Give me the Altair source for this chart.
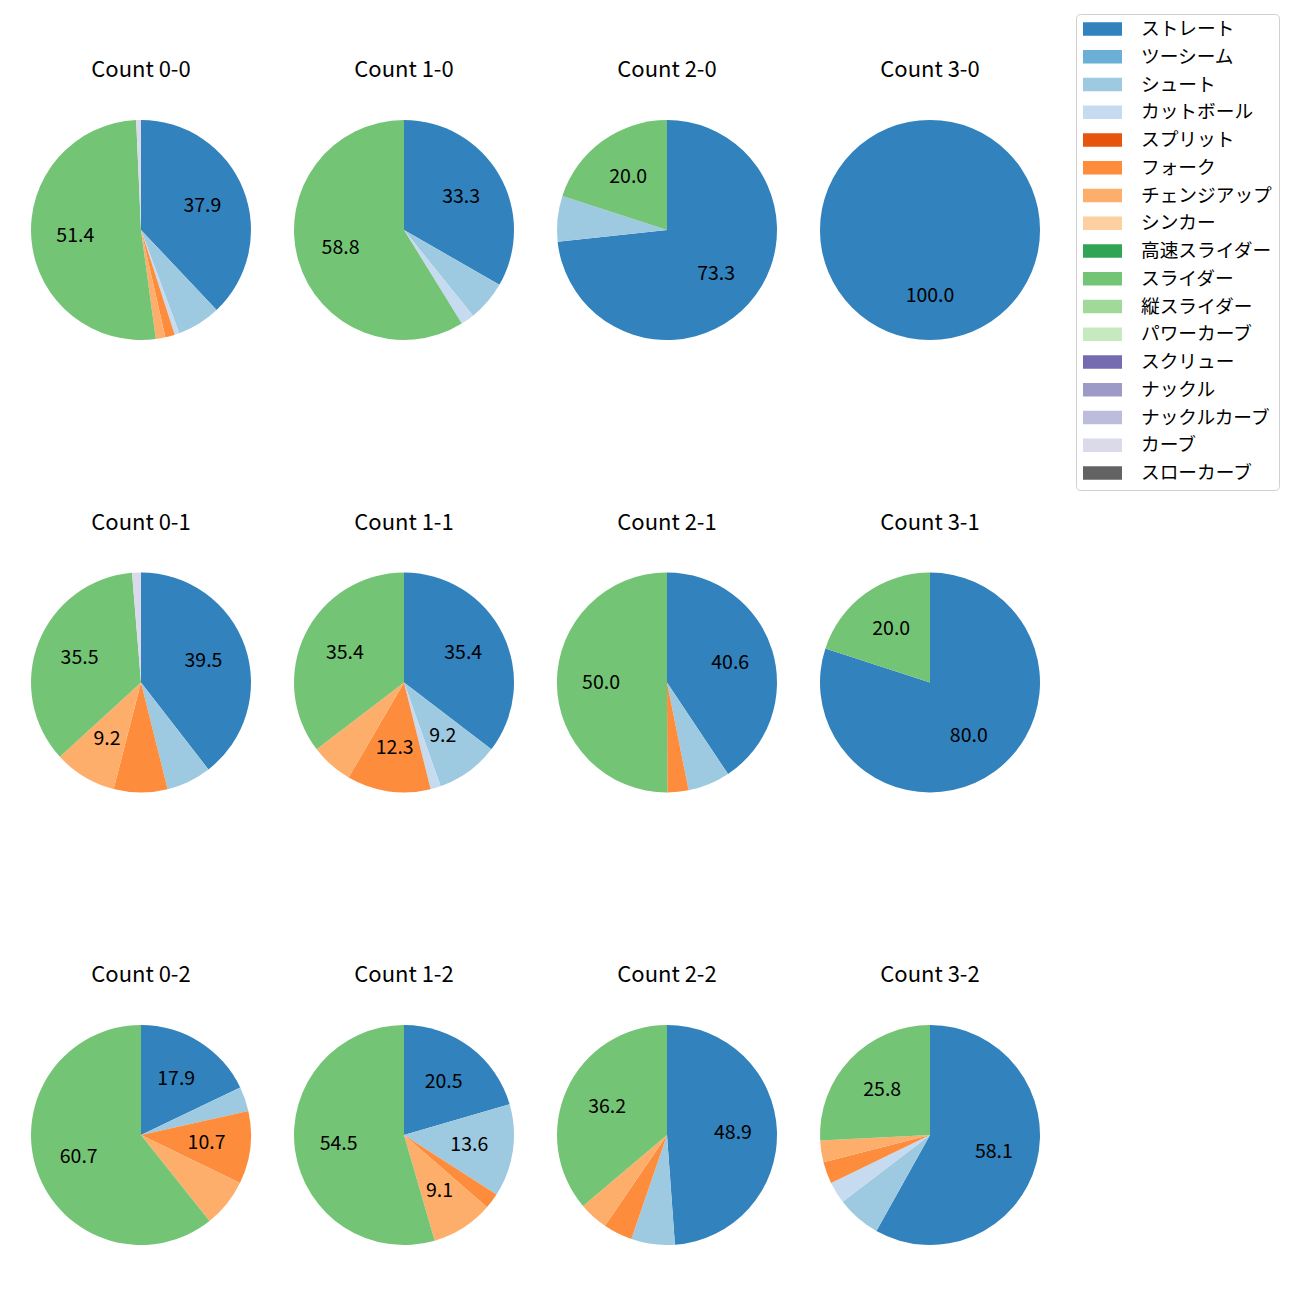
import altair as alt
import pandas as pd

categories = ["ストレート", "ツーシーム", "シュート", "カットボール", "スプリット", "フォーク",
              "チェンジアップ", "シンカー", "高速スライダー", "スライダー", "縦スライダー",
              "パワーカーブ", "スクリュー", "ナックル", "ナックルカーブ", "カーブ", "スローカーブ"]
colors = ["#3182bd", "#6baed6", "#9ecae1", "#c6dbef", "#e6550d", "#fd8d3c", "#fdae6b",
          "#fdd0a2", "#31a354", "#74c476", "#a1d99b", "#c7e9c0", "#756bb1", "#9e9ac8",
          "#bcbddc", "#dadaeb", "#636363"]

counts = ["Count 0-0", "Count 1-0", "Count 2-0", "Count 3-0",
          "Count 0-1", "Count 1-1", "Count 2-1", "Count 3-1",
          "Count 0-2", "Count 1-2", "Count 2-2", "Count 3-2"]

#            Str   2S   Sht  Cut  Spl  Frk   CH   Snk HSl  Sld  VSl  PC  Scr Knk KC  Crv  SC
c_0_0 = [37.9, 0, 6.4, 0.7, 0, 1.4, 1.4, 0, 0, 51.4, 0, 0, 0, 0, 0, 0.7, 0]
c_1_0 = [33.3, 0, 5.9, 2.0, 0, 0, 0, 0, 0, 58.8, 0, 0, 0, 0, 0, 0, 0]
c_2_0 = [73.3, 0, 6.7, 0, 0, 0, 0, 0, 0, 20.0, 0, 0, 0, 0, 0, 0, 0]
c_3_0 = [100.0, 0, 0, 0, 0, 0, 0, 0, 0, 0, 0, 0, 0, 0, 0, 0, 0]
c_0_1 = [39.5, 0, 6.6, 0, 0, 7.9, 9.2, 0, 0, 35.5, 0, 0, 0, 0, 0, 1.3, 0]
c_1_1 = [35.4, 0, 9.2, 1.5, 0, 12.3, 6.2, 0, 0, 35.4, 0, 0, 0, 0, 0, 0, 0]
c_2_1 = [40.6, 0, 6.2, 0, 0, 3.1, 0, 0, 0, 50.0, 0, 0, 0, 0, 0, 0, 0]
c_3_1 = [80.0, 0, 0, 0, 0, 0, 0, 0, 0, 20.0, 0, 0, 0, 0, 0, 0, 0]
c_0_2 = [17.9, 0, 3.6, 0, 0, 10.7, 7.1, 0, 0, 60.7, 0, 0, 0, 0, 0, 0, 0]
c_1_2 = [20.5, 0, 13.6, 0, 0, 2.3, 9.1, 0, 0, 54.5, 0, 0, 0, 0, 0, 0, 0]
c_2_2 = [48.9, 0, 6.4, 0, 0, 4.3, 4.3, 0, 0, 36.2, 0, 0, 0, 0, 0, 0, 0]
c_3_2 = [58.1, 0, 6.5, 3.2, 0, 3.2, 3.2, 0, 0, 25.8, 0, 0, 0, 0, 0, 0, 0]

series = [c_0_0, c_1_0, c_2_0, c_3_0, c_0_1, c_1_1, c_2_1, c_3_1,
          c_0_2, c_1_2, c_2_2, c_3_2]

rows = []
for cnt, vals in zip(counts, series):
    for i, (cat, v) in enumerate(zip(categories, vals)):
        if v > 0:
            rows.append({"count": cnt, "pitch": cat, "idx": i, "value": v,
                         "label": f"{v:.1f}" if v >= 9 else ""})
df = pd.DataFrame(rows)

FONT = "Noto Sans CJK JP"
R = 110

legend = alt.Legend(
    title=None, orient="none", legendX=1063, legendY=-88,
    symbolType="M-1,-0.34L1,-0.34L1,0.34L-1,0.34Z", symbolSize=1521,
    symbolStrokeWidth=0, symbolOpacity=1,
    labelFont=FONT, labelFontSize=18.7, labelColor="black", labelOffset=19,
    clipHeight=16, rowPadding=8.75,
    strokeColor="#d0d0d0", cornerRadius=4, padding=7, fillColor="white",
    labelLimit=300,
)

base = alt.Chart(df).encode(
    theta=alt.Theta("value:Q", stack=True),
    order=alt.Order("idx:Q", sort="ascending"),
)

arcs = base.mark_arc(outerRadius=R).encode(
    color=alt.Color("pitch:N", scale=alt.Scale(domain=categories, range=colors),
                    sort=categories, legend=legend)
)
texts = base.mark_text(radius=R * 0.6, font=FONT, fontSize=19.5, color="black").encode(
    text="label:N"
)

chart = alt.layer(arcs, texts).properties(width=256, height=256).facet(
    facet=alt.Facet("count:N", sort=counts,
                    header=alt.Header(title=None, labelFont=FONT, labelFontSize=22,
                                      labelColor="black", labelPadding=20)),
    columns=4,
    spacing={"row": 153.5, "column": 7},
).properties(
    padding={"left": 5, "top": 5, "right": 5, "bottom": 5}
).configure_view(stroke=None)

chart.save("out.html", embed_options={"renderer": "svg", "actions": False})
